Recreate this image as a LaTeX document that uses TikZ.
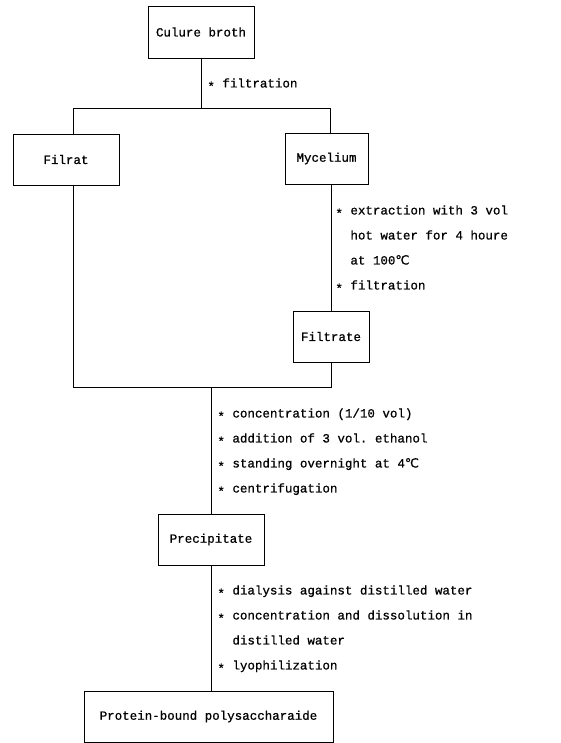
\documentclass[tikz,border=0pt]{standalone}
\usepackage{fontspec}
\newfontfamily\flowfont[FakeBold=0.8]{Liberation Mono}
\newfontfamily\symbolfont[FakeBold=0.8]{DejaVu Sans}
\usepackage{tikz}
\tikzset{stagebox/.style={draw,line width=0.9pt,inner sep=0pt,font=\flowfont\fontsize{12.5}{25}\selectfont}}
\tikzset{steptext/.style={anchor=north west,inner sep=0pt,align=left,font=\flowfont\fontsize{12.5}{25}\selectfont\frenchspacing}}
\newcommand{\stepmark}{\raisebox{-0.25em}{*}}
\newcommand{\degC}{{\symbolfont ℃}}

\begin{document}
\begin{tikzpicture}[x=1pt,y=-1pt,line width=0.9pt]
		\useasboundingbox (0,0) rectangle (561,743);
		%
		\node[stagebox,minimum width=106pt,minimum height=52pt] (broth) at (201,32) {Culure broth};
		\node[stagebox,minimum width=106pt,minimum height=51pt] (filrat) at (66,159.5) {Filrat};
		\node[stagebox,minimum width=83pt,minimum height=51pt] (mycelium) at (326.5,158.5) {Mycelium};
		\node[stagebox,minimum width=76pt,minimum height=51pt] (filtrate) at (331,336.5) {Filtrate};
		\node[stagebox,minimum width=106pt,minimum height=51pt] (precip) at (211,539.5) {Precipitate};
		\node[stagebox,minimum width=249pt,minimum height=51pt] (product) at (208.5,716.5) {Protein-bound polysaccharaide};
		%
		\coordinate (splitL) at (73,108);
		\coordinate (split) at (201,108);
		\coordinate (splitR) at (330,108);
		\coordinate (mergeL) at (73,387);
		\coordinate (merge) at (211,387);
		\coordinate (mergeR) at (331,387);
		%
		\draw (broth) -- (split);
		\draw (filrat.north -| splitL) -- (splitL) -- (splitR) -- (mycelium.north -| splitR);
		\draw (mycelium.south -| filtrate.north) -- (filtrate.north);
		\draw (filrat.south -| mergeL) -- (mergeL) -- (mergeR) -- (filtrate.south -| mergeR);
		\draw (merge) -- (precip);
		\draw (precip) -- (product.north -| precip);
		%
		\node[steptext] (filtlabel) at (207,69.5) {\strut\stepmark\ filtration};
		\node[steptext] (extractlabel) at (335,196.5) {\strut\stepmark\ extraction with 3 vol\\\hspace*{1.2em}hot water for 4 houre\\\hspace*{1.2em}at 100\degC\\\stepmark\ filtration};
		\node[steptext] (concentlabel) at (217,399.5) {\strut\stepmark\ concentration (1/10 vol)\\\stepmark\ addition of 3 vol. ethanol\\\stepmark\ standing overnight at 4\degC\\\stepmark\ centrifugation};
		\node[steptext] (dialysislabel) at (217,576.5) {\strut\stepmark\ dialysis against distilled water\\\stepmark\ concentration and dissolution in\\\hspace*{1.2em}distilled water\\\stepmark\ lyophilization};
	\end{tikzpicture}
\end{document}
